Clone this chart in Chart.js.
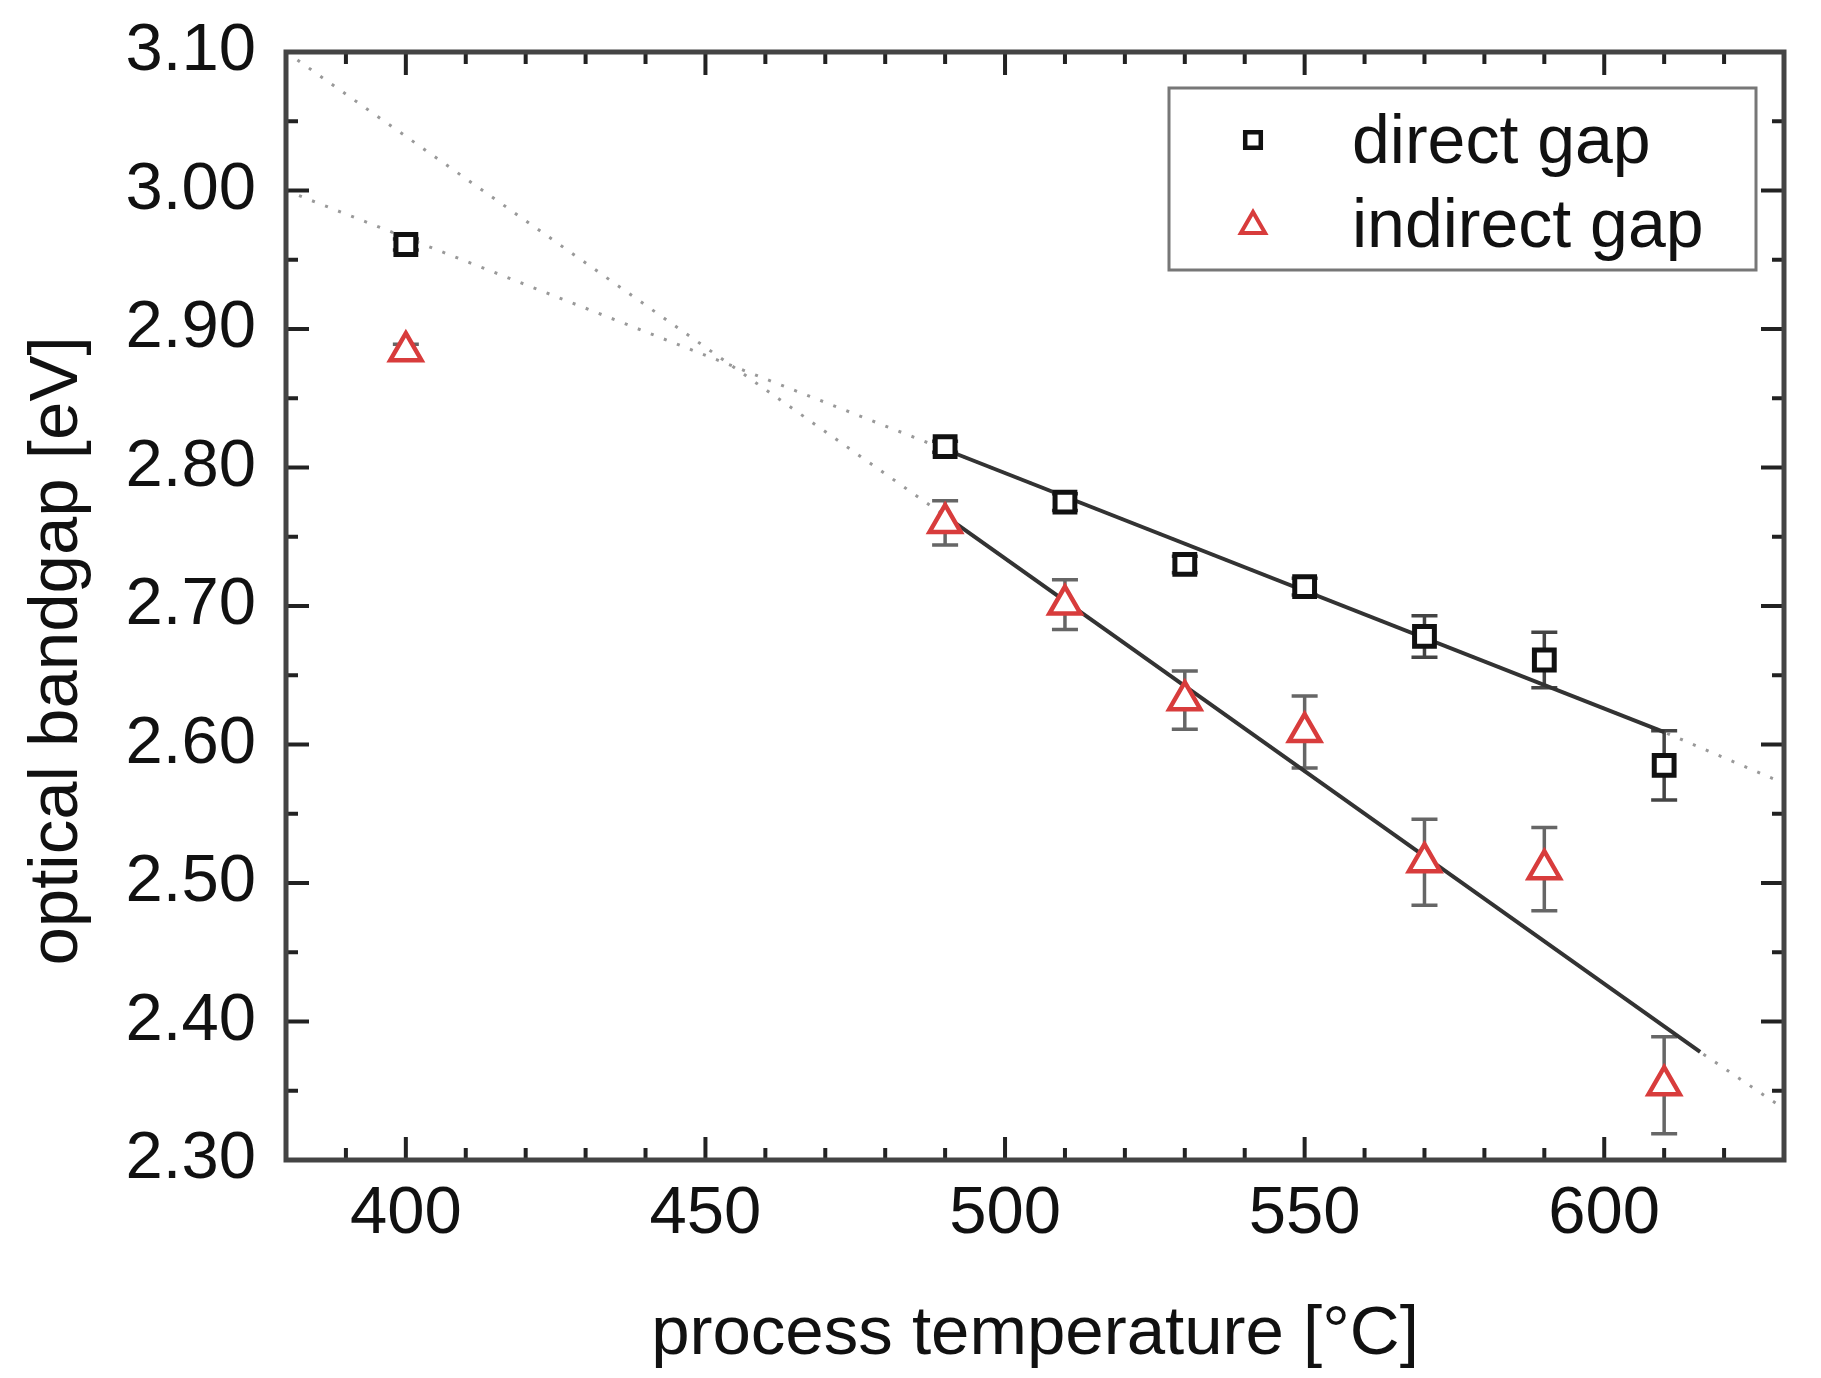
<!DOCTYPE html>
<html>
<head>
<meta charset="utf-8">
<script src="https://cdn.jsdelivr.net/npm/chart.js@4/dist/chart.umd.min.js"></script>
<style>
  body { margin: 0; background: #fff; }
  #wrap { width: 1821px; height: 1378px; }
</style>
</head>
<body>
<div id="wrap"><canvas id="gapChart" width="1821" height="1378"></canvas></div>
<script>
const temps = [400, 490, 510, 530, 550, 570, 590, 610];
const directGap = [2.961, 2.815, 2.775, 2.730, 2.714, 2.678, 2.661, 2.585];
const directErr = [0.004, 0.004, 0.006, 0.006, 0.006, 0.015, 0.020, 0.025];
const indirectGap = [2.884, 2.760, 2.701, 2.632, 2.609, 2.515, 2.510, 2.354];
const indirectErr = [0.005, 0.016, 0.018, 0.021, 0.026, 0.031, 0.030, 0.035];

// linear fits: [start, solid start, solid end, end]
const directFitX = [380, 490, 610, 630];
const directFitY = [3.00, 2.813, 2.609, 2.572];
const indirectFitX = [380, 490, 616, 630];
const indirectFitY = [3.10, 2.765, 2.378, 2.337];

const xTicksMajor = [400, 450, 500, 550, 600];
const yTicksMajor = ['2.30', '2.40', '2.50', '2.60', '2.70', '2.80', '2.90', '3.00', '3.10'];

const FONT = "'Liberation Sans', Arial, sans-serif";
const RED = '#d83c3c';
const INK = '#222';

function pts(xs, ys) {
  return xs.map((x, i) => ({ x: x, y: ys[i] }));
}

const errPlugin = {
  id: 'errbars',
  beforeDatasetsDraw(chart) {
    const ctx = chart.ctx;
    const x = chart.scales.x, y = chart.scales.y;
    const sets = [
      { vals: directGap, err: directErr, color: '#444' },
      { vals: indirectGap, err: indirectErr, color: '#666' }
    ];
    ctx.save();
    sets.forEach(s => {
      ctx.strokeStyle = s.color;
      ctx.lineWidth = 3.5;
      temps.forEach((t, i) => {
        const px = x.getPixelForValue(t);
        const top = y.getPixelForValue(s.vals[i] + s.err[i]);
        const bot = y.getPixelForValue(s.vals[i] - s.err[i]);
        ctx.beginPath();
        ctx.moveTo(px, top); ctx.lineTo(px, bot);
        ctx.moveTo(px - 13, top); ctx.lineTo(px + 13, top);
        ctx.moveTo(px - 13, bot); ctx.lineTo(px + 13, bot);
        ctx.stroke();
      });
    });
    ctx.restore();
  },
  afterDraw(chart) {
    const ctx = chart.ctx;
    const a = chart.chartArea;
    const x = chart.scales.x, y = chart.scales.y;
    ctx.save();
    // inward ticks on all four sides
    ctx.strokeStyle = INK;
    x.ticks.forEach(t => {
      const px = x.getPixelForValue(t.value);
      const len = xTicksMajor.includes(t.value) ? 23 : 12;
      ctx.lineWidth = 4;
      ctx.beginPath();
      ctx.moveTo(px, a.bottom); ctx.lineTo(px, a.bottom - len);
      ctx.moveTo(px, a.top); ctx.lineTo(px, a.top + len);
      ctx.stroke();
    });
    y.ticks.forEach(t => {
      const py = y.getPixelForValue(t.value);
      const len = yTicksMajor.includes(t.value.toFixed(2)) ? 23 : 12;
      ctx.lineWidth = 4;
      ctx.beginPath();
      ctx.moveTo(a.left, py); ctx.lineTo(a.left + len, py);
      ctx.moveTo(a.right, py); ctx.lineTo(a.right - len, py);
      ctx.stroke();
    });
    // frame
    ctx.strokeStyle = '#444';
    ctx.lineWidth = 5;
    ctx.strokeRect(a.left, a.top, a.right - a.left, a.bottom - a.top);

    // y title
    ctx.fillStyle = '#111';
    ctx.font = '69px ' + FONT;
    ctx.textAlign = 'center';
    ctx.textBaseline = 'middle';
    ctx.translate(58, 651);
    ctx.rotate(-Math.PI / 2);
    ctx.fillText('optical bandgap [eV]', 0, 0);
    ctx.setTransform(1, 0, 0, 1, 0, 0);

    // legend box
    ctx.strokeStyle = '#777';
    ctx.lineWidth = 3;
    ctx.strokeRect(1169, 88, 587, 182);
    ctx.fillStyle = '#fff';
    ctx.strokeStyle = '#111';
    ctx.lineWidth = 4.5;
    Chart.helpers.drawPoint(ctx, { pointStyle: 'rect', radius: 11, rotation: 0, borderWidth: 4.5 }, 1253, 140);
    ctx.lineWidth = 4;
    ctx.strokeStyle = RED;
    Chart.helpers.drawPoint(ctx, { pointStyle: 'triangle', radius: 14, rotation: 0, borderWidth: 4 }, 1253, 226);
    ctx.fillStyle = '#111';
    ctx.font = '68px ' + FONT;
    ctx.textAlign = 'left';
    ctx.textBaseline = 'alphabetic';
    ctx.fillText('direct gap', 1352, 163);
    ctx.fillText('indirect gap', 1352, 247);
    ctx.restore();
  }
};

new Chart(document.getElementById('gapChart'), {
  type: 'scatter',
  data: {
    datasets: [
      {
        label: 'direct gap',
        data: pts(temps, directGap),
        pointStyle: 'rect',
        pointRadius: 14,
        borderWidth: 5,
        borderColor: '#111',
        backgroundColor: '#fff'
      },
      {
        label: 'indirect gap',
        data: pts(temps, indirectGap),
        pointStyle: 'triangle',
        pointRadius: 18,
        borderWidth: 4.5,
        borderColor: RED,
        backgroundColor: '#fff'
      },
      {
        label: 'direct fit',
        data: pts(directFitX.slice(1, 3), directFitY.slice(1, 3)),
        showLine: true,
        pointRadius: 0,
        borderColor: '#333',
        borderWidth: 4
      },
      {
        label: 'indirect fit',
        data: pts(indirectFitX.slice(1, 3), indirectFitY.slice(1, 3)),
        showLine: true,
        pointRadius: 0,
        borderColor: '#333',
        borderWidth: 4
      },
      {
        label: 'direct fit ext',
        data: pts(directFitX, directFitY),
        showLine: true,
        pointRadius: 0,
        borderColor: '#999',
        borderWidth: 3,
        borderDash: [3, 11]
      },
      {
        label: 'indirect fit ext',
        data: pts(indirectFitX, indirectFitY),
        showLine: true,
        pointRadius: 0,
        borderColor: '#999',
        borderWidth: 3,
        borderDash: [3, 11]
      }
    ]
  },
  options: {
    responsive: false,
    animation: false,
    devicePixelRatio: 1,
    layout: { padding: { left: 0, right: 37, top: 52, bottom: 0 } },
    plugins: {
      legend: { display: false },
      tooltip: { enabled: false }
    },
    scales: {
      x: {
        type: 'linear',
        min: 380,
        max: 630,
        grid: { display: false, drawTicks: false },
        border: { display: false },
        ticks: {
          stepSize: 10,
          autoSkip: false,
          maxRotation: 0,
          padding: 14,
          color: '#111',
          font: { family: FONT, size: 67 },
          callback: v => xTicksMajor.includes(v) ? String(v) : ''
        },
        title: {
          display: true,
          text: 'process temperature [°C]',
          color: '#111',
          font: { family: FONT, size: 69 },
          padding: { top: 2, bottom: 2 }
        },
        afterFit: s => { s.height = 218; }
      },
      y: {
        type: 'linear',
        min: 2.3,
        max: 3.1,
        grid: { display: false, drawTicks: false },
        border: { display: false },
        ticks: {
          stepSize: 0.05,
          autoSkip: false,
          padding: 30,
          color: '#111',
          font: { family: FONT, size: 67 },
          callback: v => yTicksMajor.includes(v.toFixed(2)) ? v.toFixed(2) : ''
        },
        afterFit: s => { s.width = 286; s.paddingTop = 0; s.paddingBottom = 0; }
      }
    }
  },
  plugins: [errPlugin]
});
</script>
</body>
</html>
